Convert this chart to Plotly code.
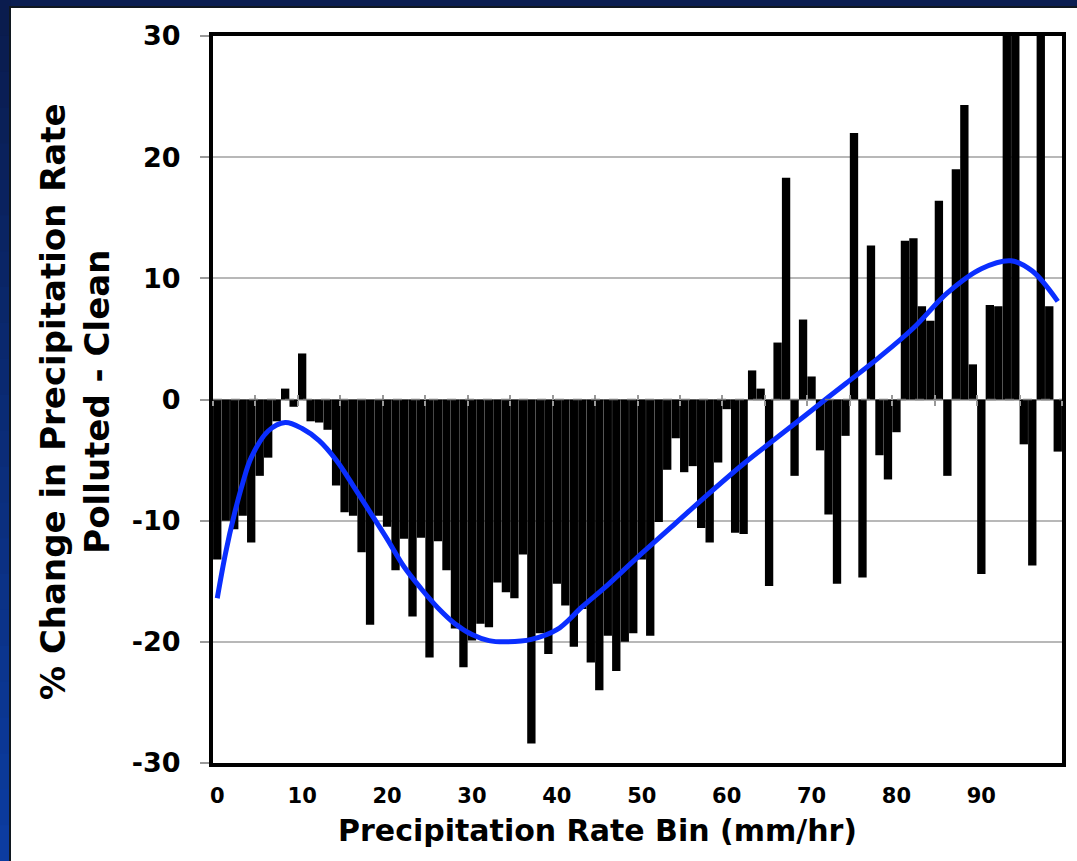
import plotly.graph_objects as go

# Precipitation-rate bins (mm/hr) and % change, polluted minus clean
bins = list(range(100))
pct_change = [
    -13.2, -10.0, -10.7, -9.6, -11.8, -6.3, -4.8, -1.8, 0.9, -0.6,
    3.8, -1.8, -1.9, -2.5, -7.1, -9.3, -9.6, -12.6, -18.6, -9.6,
    -10.5, -14.1, -11.5, -17.9, -11.4, -21.3, -11.7, -14.1, -18.9, -22.1,
    -19.9, -18.5, -18.8, -15.1, -15.9, -16.4, -12.8, -28.4, -19.3, -21.0,
    -15.2, -17.0, -20.4, -17.3, -21.7, -24.0, -19.5, -22.4, -20.0, -19.3,
    -13.2, -19.5, -10.1, -5.8, -3.2, -6.0, -5.5, -10.6, -11.8, -5.2,
    -0.8, -11.0, -11.1, 2.4, 0.9, -15.4, 4.7, 18.3, -6.3, 6.6,
    1.9, -4.2, -9.5, -15.2, -3.0, 22.0, -14.7, 12.7, -4.6, -6.6,
    -2.7, 13.1, 13.3, 7.7, 6.5, 16.4, -6.3, 19.0, 24.3, 2.9,
    -14.4, 7.8, 7.7, 36.0, 41.0, -3.7, -13.7, 33.0, 7.7, -4.3,
]

# Trend curve through the bins
trend_x = [0, 1, 2, 3, 4, 6, 8, 10, 12, 14, 16, 18, 20, 22, 24, 26, 28, 30,
           32, 34, 37, 40, 43, 46, 50, 54, 58, 62, 66, 70, 74, 78, 82, 86,
           90, 93.5, 96, 99]
trend_y = [-16.4, -12.6, -9.5, -6.9, -4.8, -2.6, -1.9, -2.4, -3.4, -5.0,
           -7.1, -9.3, -11.5, -13.8, -15.6, -17.2, -18.5, -19.4, -19.9, -20.0,
           -19.8, -19.0, -17.1, -15.3, -12.7, -10.2, -7.7, -5.3, -3.1, -0.9,
           1.3, 3.5, 5.9, 8.8, 10.8, 11.45, 10.6, 8.1]

x_tick_vals = list(range(0, 100, 10))
x_tick_text = [str(v) for v in x_tick_vals]
y_tick_vals = [-30, -20, -10, 0, 10, 20, 30]
y_tick_text = ["-30", "-20", "-10", "0", "10", "20", "30"]
minor_marks = [v - 0.5 for v in range(0, 101, 5)]

W, H = 1077, 861
L, R, T, B = 213, 15, 36, 98
PW, PH = W - L - R, H - T - B


def px(x):
    return (x - L) / PW


def py(y):
    return (H - B - y) / PH


FONT = "DejaVu Sans"

fig = go.Figure()
fig.add_trace(go.Bar(x=bins, y=pct_change, marker=dict(color="black", line=dict(width=0)),
                     showlegend=False, hoverinfo="x+y"))
fig.add_trace(go.Scatter(x=trend_x, y=trend_y, mode="lines",
                         line=dict(color="#0a2eff", width=5, shape="spline", smoothing=1.0),
                         showlegend=False, hoverinfo="skip"))
# carriers for the tick marks that sit on the zero line
for ax in ("x2", "x3"):
    fig.add_trace(go.Scatter(x=[None], y=[None], xaxis=ax, yaxis="y",
                             showlegend=False, hoverinfo="skip"))

# navy frame: shaded bands down the left edge
frame_shapes = []
n_bands = 24
for k in range(n_bands):
    t = k / (n_bands - 1)
    r = int(10 + t * 2)
    g = int(28 + t * 32)
    b = int(78 + t * 82)
    y_top = k * H / n_bands
    y_bot = (k + 1) * H / n_bands
    frame_shapes.append(dict(type="rect", xref="paper", yref="paper",
                             x0=px(-5), x1=px(11), y0=py(y_bot + 1), y1=py(y_top),
                             fillcolor=f"rgb({r},{g},{b})", line=dict(width=0), layer="below"))

fig.update_layout(
    width=W, height=H, autosize=False,
    margin=dict(l=L, r=R, t=T, b=B, pad=0),
    paper_bgcolor="#0b1f52",
    plot_bgcolor="white",
    bargap=0.02,
    xaxis=dict(range=[-0.5, 99.5], tickmode="array", tickvals=x_tick_vals, ticktext=x_tick_text,
               ticks="", showgrid=False, zeroline=False,
               showline=True, mirror=True, linecolor="black", linewidth=4,
               tickfont=dict(family=FONT, size=21, color="black", weight="bold"),
               ticklabelstandoff=11),
    xaxis2=dict(overlaying="x", anchor="free", position=0.5, range=[-0.5, 99.5],
                tickmode="array", tickvals=minor_marks, ticks="outside", ticklen=5,
                tickcolor="#999999", tickwidth=1.5, showticklabels=False,
                showgrid=False, zeroline=False, showline=False),
    xaxis3=dict(overlaying="x", anchor="free", position=0.5, range=[-0.5, 99.5],
                tickmode="array", tickvals=minor_marks, ticks="inside", ticklen=5,
                tickcolor="#999999", tickwidth=1.5, showticklabels=False,
                showgrid=False, zeroline=False, showline=False),
    yaxis=dict(range=[-30, 30], tickmode="array", tickvals=y_tick_vals, ticktext=y_tick_text,
               showgrid=True, gridcolor="#b8b8b8", gridwidth=1.5, zeroline=False,
               showline=True, mirror=True, linecolor="black", linewidth=4,
               ticks="outside", ticklen=9, tickcolor="#999999", tickwidth=1.5,
               tickfont=dict(family=FONT, size=27, color="black", weight="bold"),
               ticklabelstandoff=14),
    shapes=frame_shapes + [
        # white panel inside the navy frame
        dict(type="rect", xref="paper", yref="paper", x0=px(10), x1=px(W + 20),
             y0=py(7), y1=py(H + 20), fillcolor="white",
             line=dict(color="#101820", width=2), layer="below"),
        # dashed zero line
        dict(type="line", xref="paper", yref="y", x0=0, x1=1, y0=0, y1=0,
             line=dict(color="#7a7a7a", width=1.5, dash="dash"), layer="above"),
    ],
    annotations=[
        dict(text="% Change in Precipitation Rate<br>Polluted - Clean",
             xref="paper", yref="paper", x=px(75), y=py(402),
             xanchor="center", yanchor="middle", textangle=-90, showarrow=False,
             font=dict(family=FONT, size=34, color="black", weight="bold")),
        dict(text="Precipitation Rate Bin (mm/hr)",
             xref="paper", yref="paper", x=px(597), y=py(830),
             xanchor="center", yanchor="middle", showarrow=False,
             font=dict(family=FONT, size=30, color="black", weight="bold")),
    ],
)

fig.write_html("out.html")
